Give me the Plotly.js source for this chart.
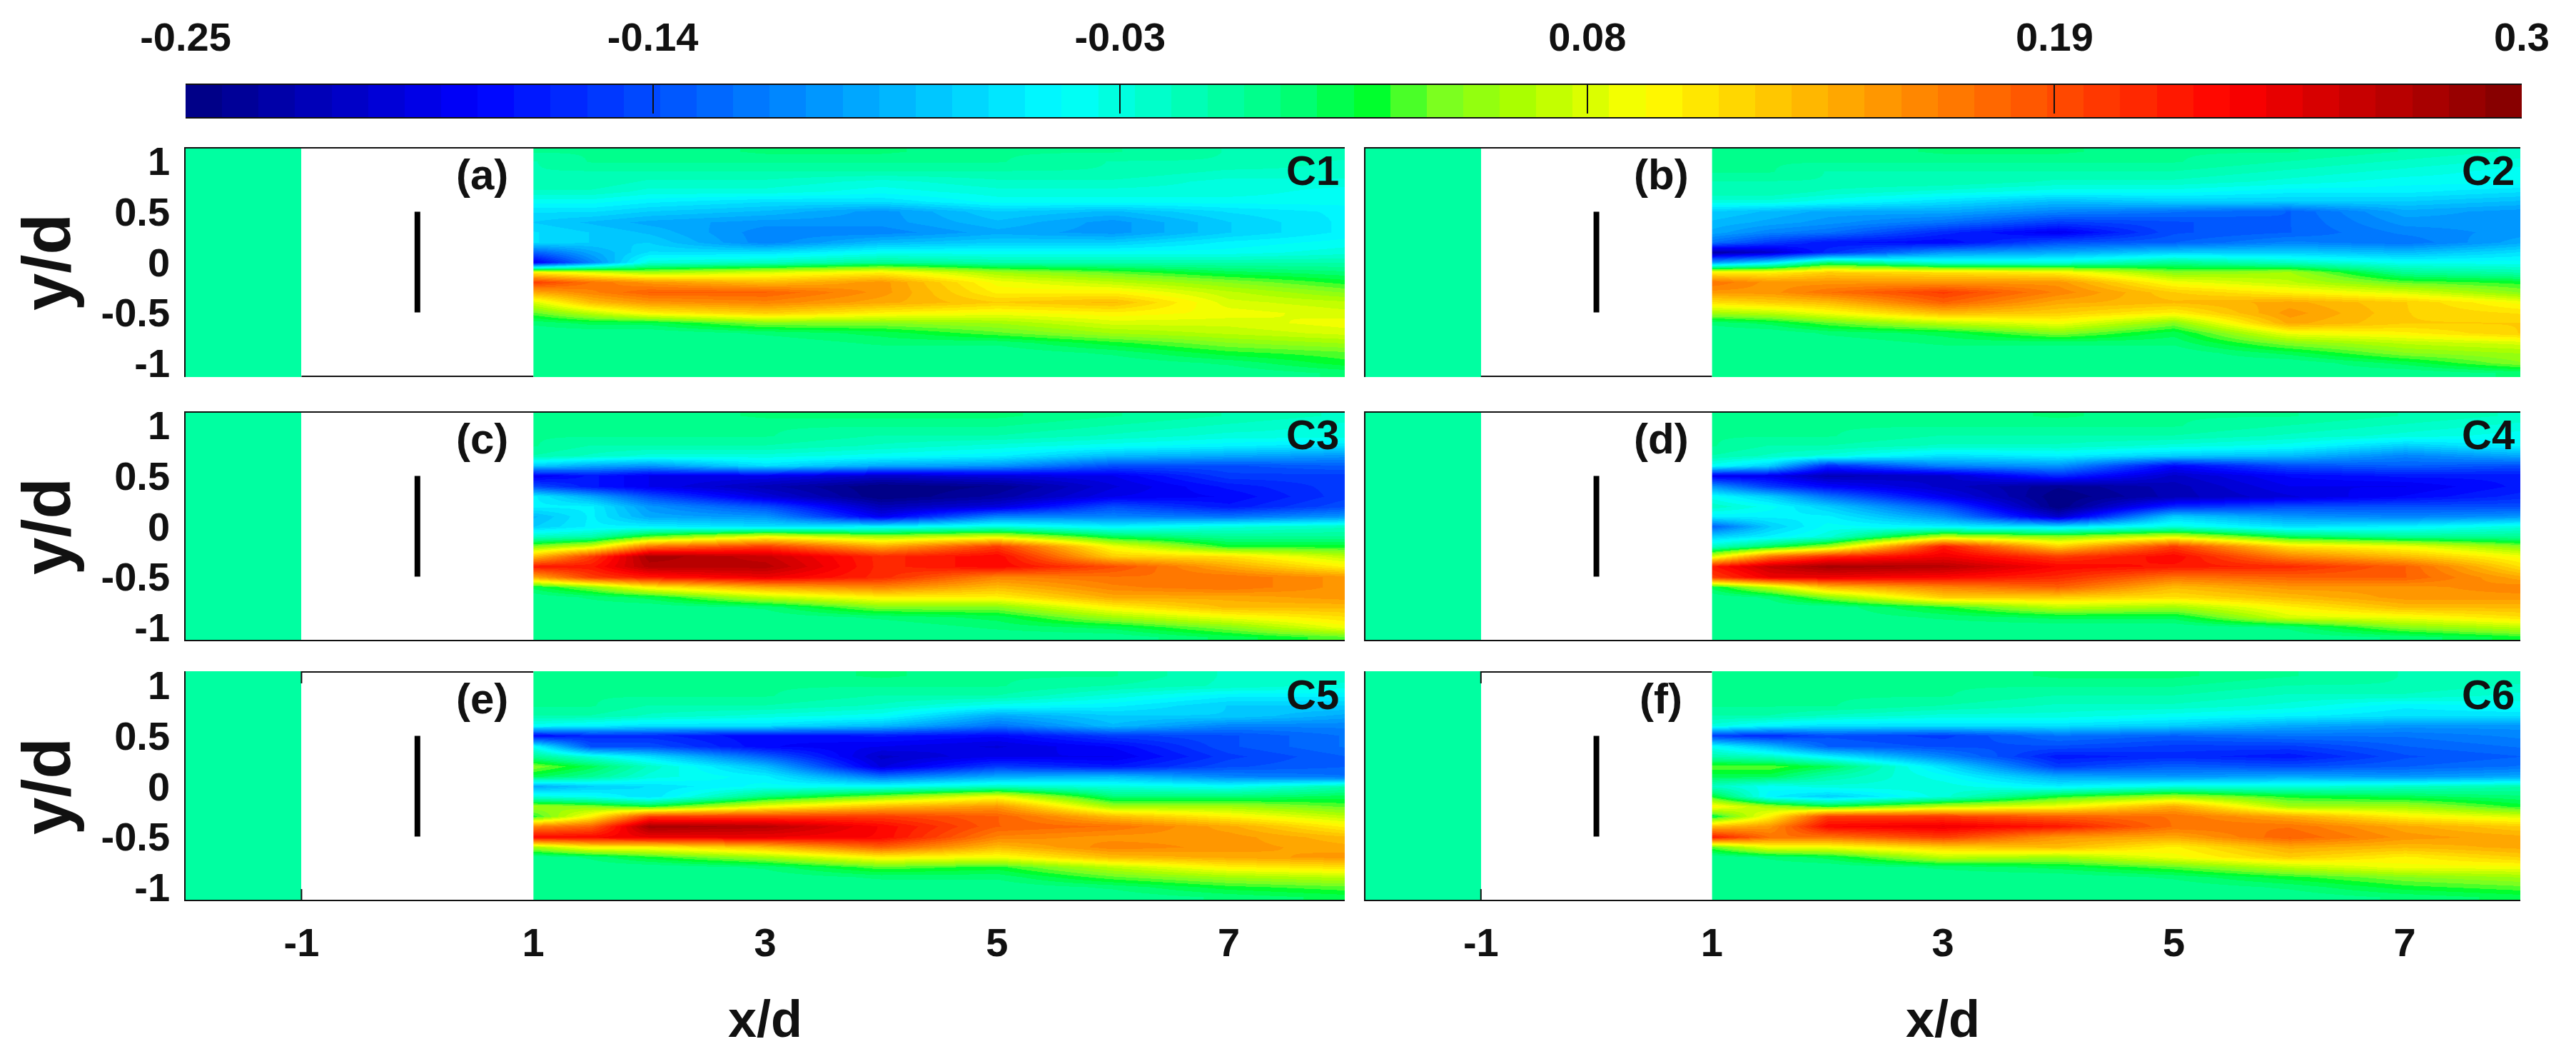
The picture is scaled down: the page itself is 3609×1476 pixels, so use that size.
<!DOCTYPE html>
<html><head><meta charset="utf-8">
<script src="https://cdn.plot.ly/plotly-3.0.1.min.js"></script>
<style>html,body{margin:0;padding:0;background:#fff}#chart{width:3609px;height:1476px}</style>
</head><body><div id="chart"></div>
<script>
// Stations of the wake field and the y rows (top to bottom)
const stationsX = [1,1.5,2,3,4,5,6,7,8];
const rowsY = [1.1,1,0.9,0.8,0.7,0.6,0.5,0.4,0.3,0.2,0.1,0,-0.1,-0.2,-0.3,-0.4,-0.5,-0.6,-0.7,-0.8,-0.9,-1,-1.1];
// Values in hundredths, one inner array per station
const c1 = [
[0,-1,-1,-1,-2,-4,-6,-7,-6,-6,-13,-19,10,20,14,8,4,1,0,0,0,0,0],
[0,0,-1,-1,-2,-4,-6,-8,-7,-7,-9,-11,8,17,16,13,7,2,0,0,0,0,0],
[0,0,-1,-2,-3,-5,-7,-9,-8,-7,-6,-3,6,15,18,15,10,2,0,0,0,0,0],
[1,0,-1,-2,-3,-6,-8,-10,-11,-11,-6,-2,8,13,18,16,12,5,1,0,0,0,0],
[1,0,-1,-3,-4,-6,-10,-10,-11,-8,-4,0,10,15,15,14,10,5,2,1,0,0,0],
[0,0,-1,-2,-3,-4,-7,-8,-9,-7,-4,-1,6,9,10,12,9,6,4,1,0,0,0],
[0,-1,-1,-2,-3,-4,-8,-10,-10,-7,-4,-1,4,7,10,13,10,8,6,3,1,0,0],
[-1,-1,-2,-3,-3,-4,-6,-7,-7,-5,-4,-1,2,5,7,8,9,8,7,5,3,1,0],
[-1,-2,-2,-3,-4,-4,-5,-5,-5,-4,-3,-1,1,3,5,7,8,9,8,6,4,3,1]];
const c2 = [
[0,0,0,-1,-1,-3,-7,-8,-9,-12,-23,-10,10,17,15,11,6,1,0,0,0,0,0],
[0,0,0,-1,-1,-3,-8,-9,-11,-15,-21,-6,10,15,15,12,7,2,0,0,0,0,0],
[0,0,-1,-1,-2,-4,-9,-10,-12,-17,-16,1,12,15,17,13,9,4,1,0,0,0,0],
[1,0,-1,-1,-3,-6,-9,-12,-16,-18,-10,-3,11,15,20,18,13,7,2,1,0,0,0],
[1,0,-1,-2,-4,-8,-11,-15,-19,-14,-9,-3,10,15,16,14,12,9,5,1,0,0,0],
[0,0,-1,-2,-4,-7,-12,-14,-14,-13,-7,0,5,9,12,13,10,5,2,1,0,0,0],
[0,-1,-2,-3,-5,-7,-13,-13,-13,-11,-7,-2,6,7,10,14,15,14,9,5,2,0,0],
[-1,-2,-3,-4,-5,-7,-9,-10,-11,-12,-8,-4,0,4,8,12,12,12,10,7,5,2,0],
[-2,-3,-4,-4,-6,-8,-10,-10,-10,-9,-6,-4,-1,3,5,9,11,12,12,8,6,5,1]];
const c3 = [
[0,0,0,0,-1,-7,-19,-14,-5,-5,-8,-7,-2,5,13,22,14,2,0,0,0,0,0],
[0,0,0,-1,-2,-9,-17,-17,-9,-5,-5,-5,-1,8,20,22,20,5,1,0,0,0,0],
[0,0,0,-1,-3,-10,-19,-19,-14,-10,-9,-5,4,17,28,27,22,10,2,0,0,0,0],
[1,0,0,-1,-3,-6,-19,-22,-20,-14,-10,-6,9,20,26,27,24,14,7,1,0,0,0],
[1,0,-1,-2,-4,-9,-21,-25,-25,-22,-19,-5,6,14,21,21,21,16,10,5,1,0,0],
[1,0,-1,-3,-5,-10,-20,-24,-23,-20,-11,-3,8,20,23,23,16,13,10,5,2,1,0],
[0,-1,-2,-4,-8,-14,-19,-20,-19,-14,-11,-5,2,9,12,19,17,16,14,10,6,2,0],
[-1,-2,-3,-5,-9,-14,-15,-17,-18,-17,-12,-3,0,3,11,14,17,17,14,13,9,5,2],
[-2,-3,-3,-6,-10,-13,-15,-15,-15,-14,-10,-2,0,3,7,10,15,15,15,13,11,9,4]];
const c4 = [
[0,0,0,0,-1,-4,-19,-10,-4,-2,-5,-13,-7,-2,8,22,20,2,0,0,0,0,0],
[0,0,0,-1,-2,-7,-19,-15,-7,-4,-5,-7,-5,2,17,26,24,7,1,0,0,0,0],
[0,0,0,-1,-3,-16,-22,-18,-12,-7,-5,-4,-3,6,21,28,24,13,5,0,0,0,0],
[0,0,-1,-2,-6,-11,-21,-21,-19,-14,-10,-5,7,22,24,27,23,16,12,3,1,0,0],
[1,0,-1,-2,-5,-10,-16,-24,-25,-25,-21,-6,5,12,20,23,21,18,12,7,2,0,0],
[0,0,-1,-3,-7,-18,-21,-22,-22,-16,-7,-3,8,20,23,22,17,13,11,6,2,0,0],
[0,-1,-2,-4,-8,-14,-18,-19,-20,-14,-10,-6,2,11,16,21,18,15,13,10,8,1,0],
[-1,-2,-3,-7,-11,-13,-17,-19,-18,-14,-11,-5,0,9,13,18,18,15,15,13,9,5,1],
[-2,-3,-4,-5,-9,-14,-17,-17,-16,-14,-10,-3,0,5,9,11,14,16,15,13,11,7,3]];
const c5 = [
[0,0,0,0,-1,-4,-18,-4,0,5,2,-9,-3,6,3,16,23,6,0,0,0,0,0],
[0,0,0,0,-1,-5,-16,-14,-3,2,0,-7,-4,5,10,18,23,10,1,0,0,0,0],
[0,0,0,-1,-2,-6,-16,-14,-6,-2,-3,-6,-6,3,20,28,24,10,3,0,0,0,0],
[0,0,0,-1,-3,-6,-18,-18,-13,-8,-5,-4,1,9,20,27,24,13,6,1,0,0,0],
[1,0,-1,-2,-4,-8,-17,-19,-21,-20,-12,-4,5,13,20,23,23,18,10,4,1,0,0],
[0,0,-1,-4,-9,-12,-18,-20,-19,-15,-9,-2,9,15,18,18,16,13,9,3,1,0,0],
[0,-1,-3,-5,-7,-8,-15,-18,-19,-17,-8,-3,1,6,13,17,15,16,13,7,4,1,0],
[-2,-2,-5,-7,-7,-11,-14,-14,-15,-14,-11,-4,1,6,10,14,15,15,14,10,6,3,1],
[-2,-3,-5,-7,-9,-11,-12,-12,-13,-13,-12,-1,2,4,7,10,13,14,15,11,7,4,2]];
const c6 = [
[0,0,0,0,-1,-3,-15,-4,-1,4,2,-2,3,10,2,13,22,4,0,0,0,0,0],
[0,0,0,0,-1,-5,-16,-8,-2,4,2,-4,-5,6,10,15,17,9,1,0,0,0,0],
[0,0,0,0,-2,-6,-14,-13,-5,2,-1,-3,-7,3,20,23,17,9,2,0,0,0,0],
[0,0,0,-1,-3,-6,-15,-14,-11,-6,-4,-3,-3,7,20,24,20,12,7,1,0,0,0],
[1,0,-1,-2,-3,-6,-12,-14,-17,-15,-9,-5,3,9,18,22,15,13,6,2,0,0,0],
[1,0,-1,-2,-4,-7,-13,-15,-16,-13,-10,-3,6,14,17,17,14,10,9,4,1,0,0],
[0,-1,-2,-3,-5,-9,-12,-15,-17,-14,-9,-3,3,6,14,17,18,14,12,7,3,1,0],
[-1,-1,-2,-5,-6,-10,-12,-13,-14,-13,-10,-2,2,6,10,14,15,13,10,9,5,3,1],
[-1,-2,-3,-4,-6,-10,-11,-12,-13,-12,-9,-1,1,3,8,12,14,14,12,9,6,4,2]];
// Inflow patch ahead of the plate (hundredths)
const inflowX = [-2,-1];
const inflowY = [-1.2,1.2];
const inflowZ = [[-0.5]];
// Plate
const plateX = [0,0];
const plateY = [-0.5,0.5];
// Ticks and labels
const xTickVals = [-1,1,3,5,7];
const xTickText = ['-1','1','3','5','7'];
const yTickVals = [1,0.5,0,-0.5,-1];
const yTickText = ['1','0.5','0','-0.5','-1'];
const cbarMin = -0.25;
const cbarMax = 0.3;
const cbarTickVals = [-0.25,-0.14,-0.03,0.08,0.19,0.3];
const cbarTickText = ['-0.25','-0.14','-0.03','0.08','0.19','0.3'];
const panelLetters = ['(a)','(b)','(c)','(d)','(e)','(f)'];
const panelCases = ['C1','C2','C3','C4','C5','C6'];
const fields = [c1,c2,c3,c4,c5,c6];
// Colormap anchors (fraction, r, g, b) and number of levels
const cmapFrac = [0,0.125,0.375,0.47,0.51,0.53,0.57,0.625,0.875,1];
const cmapRGB = [[0,0,128],[0,0,255],[0,255,255],[0,255,128],[0,255,40],[110,255,40],[170,255,0],[255,255,0],[255,0,0],[128,0,0]];
const cmapLevels = 64;

function mapColor(f){
  let i=0; while(i<cmapFrac.length-2 && f>cmapFrac[i+1]) i++;
  const t=(f-cmapFrac[i])/(cmapFrac[i+1]-cmapFrac[i]);
  const c=cmapRGB[i].map((v,k)=>Math.round(v+(cmapRGB[i+1][k]-v)*t));
  return 'rgb('+c.join(',')+')';
}
const colorscale=[];
for(let i=0;i<cmapLevels;i++){
  const col=mapColor((i+0.5)/cmapLevels);
  colorscale.push([i/cmapLevels,col],[(i+1)/cmapLevels,col]);
}
const cbarStep=(cbarMax-cbarMin)/cmapLevels;
const cbarX=[],cbarZ=[];
for(let i=0;i<=cmapLevels;i++) cbarX.push(cbarMin+i*cbarStep);
for(let i=0;i<cmapLevels;i++) cbarZ.push(cbarMin+(i+0.5)*cbarStep);

const W=3609,H=1476;
const FONT='"Liberation Sans", Arial, sans-serif';
const INK='#111';
const colLeft=[260,1913], colRight=[1884,3531];
const rowTop=[206,576,940], rowBottom=[528,898,1262];
const YMAX=1.14;
const tickFont={family:FONT,size:56,color:INK,weight:700};
const traces=[], shapes=[], annotations=[];
const layout={
  width:W,height:H,margin:{l:0,r:0,t:0,b:0},paper_bgcolor:'#fff',plot_bgcolor:'#fff',showlegend:false,
  font:{family:FONT,color:INK},
  coloraxis:{cmin:cbarMin,cmax:cbarMax,colorscale:colorscale,showscale:false},
  xaxis13:{domain:[260/W,3533/W],range:[cbarMin,cbarMax],anchor:'y13',side:'top',showgrid:false,zeroline:false,
    showline:true,mirror:true,linecolor:'#111',linewidth:2,layer:'above traces',
    tickmode:'array',tickvals:cbarTickVals,ticktext:cbarTickText,ticks:'inside',ticklen:40,tickwidth:1.5,tickcolor:'#111',
    tickfont:tickFont,ticklabelstandoff:24},
  yaxis13:{domain:[1-164/H,1-119/H],range:[0,1],anchor:'x13',visible:false},
  shapes:shapes,annotations:annotations
};
traces.push({type:'heatmap',x:cbarX,y:[0,1],z:[cbarZ],xaxis:'x13',yaxis:'y13',coloraxis:'coloraxis',hoverinfo:'skip'});
const frameLine={color:'#111',width:4};
function hline(xa,ya,x0,x1,y){shapes.push({type:'line',xref:xa,yref:ya,x0:x0,x1:x1,y0:y,y1:y,line:frameLine,layer:'above'});}
function vtick(xa,ya,x,y0,y1){shapes.push({type:'line',xref:xa,yref:ya,x0:x,x1:x,y0:y0,y1:y1,line:{color:'#111',width:2},layer:'above'});}

fields.forEach((field,i)=>{
  const row=Math.floor(i/2),col=i%2,n=i+1,hid=i+7;
  const xa='x'+n, ya='y'+n, xh='x'+hid;
  const bottom=row===2, left=col===0;
  layout['xaxis'+n]={domain:[colLeft[col]/W,colRight[col]/W],range:[-2,8],anchor:ya,showgrid:false,zeroline:false,showline:false,
    ticks:'',tickmode:'array',tickvals:xTickVals,ticktext:xTickText,showticklabels:bottom,tickfont:tickFont,ticklabelstandoff:20,
    title:bottom?{text:'<b>x/d</b>',font:{family:FONT,size:72,color:INK},standoff:51}:undefined};
  layout['yaxis'+n]={domain:[1-rowBottom[row]/H,1-rowTop[row]/H],range:[-YMAX,YMAX],anchor:xa,showgrid:false,zeroline:false,
    showline:true,linecolor:'#111',linewidth:1.5,ticks:'',tickmode:'array',tickvals:yTickVals,ticktext:yTickText,
    showticklabels:left,tickfont:tickFont,ticklabelstandoff:9,
    title:left?{text:'<b>y/d</b>',font:{family:FONT,size:94,color:INK},standoff:12}:undefined};
  const px1=colLeft[col]+(colRight[col]-colLeft[col])*3/10;
  layout['xaxis'+hid]={domain:[px1/W,colRight[col]/W],range:[1,8],anchor:ya,visible:false};
  traces.push({type:'heatmap',x:inflowX,y:inflowY,z:inflowZ.map(r=>r.map(v=>v/100)),xaxis:xa,yaxis:ya,coloraxis:'coloraxis',hoverinfo:'skip'});
  traces.push({type:'heatmap',x:stationsX,y:rowsY,z:field.map(c=>c.map(v=>v/100)),transpose:true,zsmooth:'best',xaxis:xh,yaxis:ya,coloraxis:'coloraxis'});
  traces.push({type:'scatter',mode:'lines',x:plateX,y:plateY,xaxis:xa,yaxis:ya,line:{color:'#000',width:8},hoverinfo:'skip'});
  // Frame segments: full or only across the open gap, as in the reference
  if(row===2){hline(xa,ya,-1,1,YMAX);hline(xa,ya,-2,8,-YMAX);vtick(xa,ya,-1,YMAX,YMAX-0.12);vtick(xa,ya,-1,-YMAX,-YMAX+0.12);}
  if(row===1){hline(xa,ya,-2,8,YMAX);hline(xa,ya,-2,8,-YMAX);}
  if(row===0){hline(xa,ya,-2,8,YMAX);hline(xa,ya,-1,1,-YMAX);}
  annotations.push({xref:xa,yref:ya,x:0.56,y:0.87,text:'<b>'+panelLetters[i]+'</b>',showarrow:false,font:{family:FONT,size:60,color:INK},xanchor:'center',yanchor:'middle'});
  annotations.push({xref:xa,yref:ya,x:7.96,y:0.91,text:'<b>'+panelCases[i]+'</b>',showarrow:false,font:{family:FONT,size:58,color:INK},xanchor:'right',yanchor:'middle'});
});
Plotly.newPlot('chart',traces,layout,{displayModeBar:false,responsive:false});
</script></body></html>
